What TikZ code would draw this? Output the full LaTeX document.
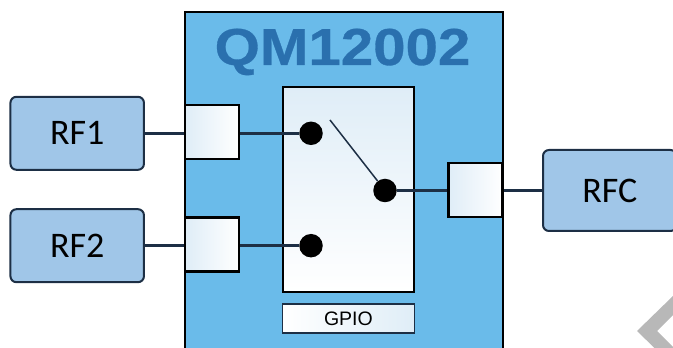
\documentclass[tikz,border=0pt]{standalone}
\usepackage{fontspec}
\setmainfont{Carlito}
\newfontfamily\arialfont{Liberation Sans}
\newfontfamily\titlefont[FakeStretch=1.12,FakeBold=0.6]{Liberation Sans Bold}
\usetikzlibrary{positioning}
\definecolor{chipblue}{HTML}{6ABBEA}
\definecolor{titleblue}{HTML}{2A70AE}
\definecolor{portblue}{HTML}{A0C6E8}
\definecolor{edgeblue}{HTML}{1D2F45}
\definecolor{paleblue}{HTML}{DFEDF7}
\tikzset{
  chip/.style={draw=black, line width=2.5pt, fill=chipblue, minimum width=318pt, minimum height=340pt, inner sep=0pt},
  rfport/.style={draw=edgeblue, line width=2pt, rounded corners=6pt, fill=portblue, minimum width=133.5pt, minimum height=73pt, inner sep=0pt, font=\fontsize{36}{36}\selectfont},
  pad/.style={draw=black, line width=2.5pt, left color=paleblue, right color=white, minimum width=54pt, minimum height=54pt, inner sep=0pt},
  switchbox/.style={draw=black, line width=2.5pt, top color=paleblue, bottom color=white, minimum width=131pt, minimum height=205pt, inner sep=0pt},
  gpiobox/.style={draw=edgeblue, line width=1.5pt, left color=white, right color=paleblue, minimum width=132pt, minimum height=29pt, inner sep=0pt, font=\arialfont\fontsize{19.5}{20}\selectfont},
  contact/.style={circle, fill=black, minimum size=23.5pt, inner sep=0pt},
  wire/.style={draw=edgeblue, line width=2.5pt},
  blade/.style={draw=edgeblue, line width=1.5pt}
}
\begin{document}
\begin{tikzpicture}[x=1pt,y=1pt]
\clip (0,0) rectangle (673,348);

  % Define nodes
\node[chip, anchor=north west] (chip) at (183.5,337.2) {};
\node[anchor=base, text=titleblue, font=\titlefont\fontsize{52}{52}\selectfont] (title) at (342.5,283) {QM12002};
\node[rfport] (rf1) at (77.2,214.7) {RF1};
\node[rfport] (rf2) at (77.2,102.3) {RF2};
\node[rfport, anchor=west, minimum height=81pt] (rfc) at (542,157.5) {RFC};
\node[pad] (p1) at (212.2,216) {};
\node[pad] (p2) at (212.2,103.5) {};
\node[pad] (p3) at (475.5,158) {};
\node[switchbox, anchor=north west] (sw) at (281.7,262) {};
\node[gpiobox, below=10pt of sw] (gpio) {GPIO};
\node[contact] (c1) at (311,214.7) {};
\node[contact] (c2) at (311,102.3) {};
\node[contact] (c3) at (385,157.5) {};
\coordinate (tip) at (330,228);

  % Connect the nodes
\draw[wire] (rf1) -- (rf1 -| p1.west);
\draw[wire] (rf2) -- (rf2 -| p2.west);
\draw[wire] (rfc) -- (rfc -| p3.east);
\draw[wire] (c1 -| p1.east) -- (c1);
\draw[wire] (c2 -| p2.east) -- (c2);
\draw[wire] (c3 -| p3.west) -- (c3);
\draw[blade] (tip) -- (c3);

  % Watermark
\fill[black!28] (637,17) -- (673,52) -- (673,33) -- (657,17) -- (673,1) -- (673,-18) -- cycle;

\end{tikzpicture}
\end{document}
